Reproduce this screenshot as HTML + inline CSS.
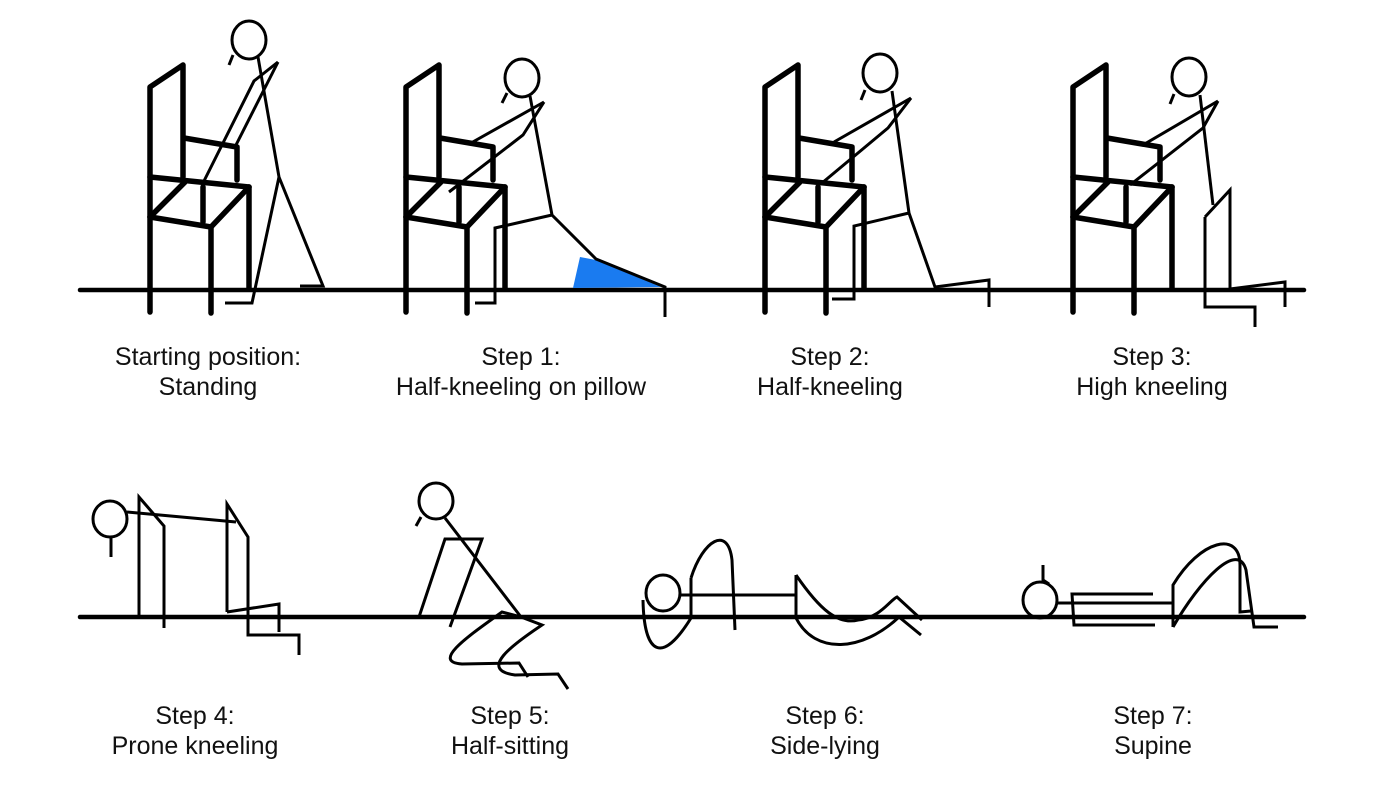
<!DOCTYPE html>
<html><head><meta charset="utf-8"><style>
html,body{margin:0;padding:0;background:#fff;}
svg{display:block}
text{font-family:"Liberation Sans",Arial,sans-serif;font-size:25px;fill:#111;text-anchor:middle}
</style></head><body>
<svg width="1386" height="800" viewBox="0 0 1386 800">
<defs>
<g id="chair" fill="none" stroke="#000" stroke-width="5.5" stroke-linecap="round" stroke-linejoin="round">
  <path d="M0,312 L0,87 L33,65 L33,177"/>
  <path d="M34,138 L87,147 L87,180"/>
  <path d="M0,177 L99,187"/>
  <path d="M0,217 L61,227 L99,187"/>
  <path d="M0,217 L35,182"/>
  <path d="M53,187 L53,222"/>
  <path d="M99,187 L99,289"/>
  <path d="M61,227 L61,313"/>
</g>
</defs>
<g stroke="#000" stroke-width="4.5" stroke-linecap="round">
<line x1="80" y1="290" x2="1304" y2="290"/>
<line x1="80" y1="617" x2="1304" y2="617"/>
</g>
<use href="#chair" x="150" y="0"/>
<use href="#chair" x="406" y="0"/>
<use href="#chair" x="765" y="0"/>
<use href="#chair" x="1073" y="0"/>
<polygon points="580,257 596,260 661,287 573,288" fill="#1a7bf0"/>
<g fill="none" stroke="#000" stroke-width="3" stroke-linejoin="miter">
<!-- Person 0 -->
<ellipse cx="249" cy="40" rx="17" ry="19"/>
<path d="M233,55 L229,65"/>
<path d="M258,57 L279,177 L323,286 L300,286"/>
<path d="M279,177 L252,303 L225,303"/>
<path d="M278,62 L254,81 L202,185"/>
<path d="M278,62 L236,145"/>
<!-- Person 1 -->
<ellipse cx="522" cy="78" rx="17" ry="19"/>
<path d="M507,93 L502,103"/>
<path d="M530,96 L552,215 L596,259 L665,287 L665,317"/>
<path d="M552,215 L495,228 L495,303 L475,303"/>
<path d="M544,102 L471,143"/>
<path d="M544,102 L523,135 L449,192"/>
<!-- Person 2 -->
<ellipse cx="880" cy="73" rx="17" ry="19"/>
<path d="M865,90 L861,100"/>
<path d="M892,91 L909,213 L935,287 L989,280 L989,307"/>
<path d="M909,213 L854,226 L854,299 L832,299"/>
<path d="M911,98 L834,142"/>
<path d="M911,98 L888,128 L822,183"/>
<!-- Person 3 -->
<ellipse cx="1189" cy="77" rx="17" ry="19"/>
<path d="M1174,94 L1170,104"/>
<path d="M1200,95 L1213,205"/>
<path d="M1218,101 L1143,145"/>
<path d="M1218,101 L1203,128 L1130,185"/>
<path d="M1205,217 L1230,190 L1230,289 L1285,282 L1285,307"/>
<path d="M1205,217 L1205,307 L1255,307 L1255,327"/>
<!-- Step 4 -->
<ellipse cx="110" cy="519" rx="17" ry="18"/>
<path d="M111,537 L111,557"/>
<path d="M127,512 L236,522"/>
<path d="M139,617 L139,497 L164,526 L164,628"/>
<path d="M227,612 L227,504 L248,537 L248,635 L299,635 L299,655"/>
<path d="M227,612 L279,604 L279,632"/>
<!-- Step 5 -->
<ellipse cx="436" cy="501" rx="17" ry="18"/>
<path d="M421,517 L416,526"/>
<path d="M445,518 L521,617"/>
<path d="M419,617 L445,539 L482,539 L450,627"/>
<path d="M521,617 L502,612 C470,635 430,662 462,664 L519,663 L528,677"/>
<path d="M521,617 L542,625 C512,645 478,670 515,675 L558,674 L568,689"/>
<!-- Step 6 -->
<ellipse cx="663" cy="593" rx="17" ry="18"/>
<path d="M681,595 L796,595"/>
<path d="M691,578 C703,540 728,525 732,560 L735,630"/>
<path d="M643,600 C644,655 662,665 691,618 L691,578"/>
<path d="M796,575 L796,618"/>
<path d="M796,575 C820,610 838,625 858,620 C880,618 890,600 897,597 L922,620"/>
<path d="M796,618 C815,655 862,652 899,617 L921,635"/>
<!-- Step 7 -->
<ellipse cx="1040" cy="600" rx="17" ry="18"/>
<path d="M1043,565 L1043,580 L1049,584"/>
<path d="M1058,603 L1173,603"/>
<path d="M1153,594 L1072,594 L1074,625 L1155,625"/>
<path d="M1173,627 L1173,585 C1200,540 1240,530 1240,565 L1240,612 L1251,611"/>
<path d="M1173,627 C1200,580 1238,540 1246,570 L1254,627 L1278,627"/>
</g>
<text x="208" y="365">Starting position:</text>
<text x="208" y="395">Standing</text>
<text x="521" y="365">Step 1:</text>
<text x="521" y="395">Half-kneeling on pillow</text>
<text x="830" y="365">Step 2:</text>
<text x="830" y="395">Half-kneeling</text>
<text x="1152" y="365">Step 3:</text>
<text x="1152" y="395">High kneeling</text>
<text x="195" y="724">Step 4:</text>
<text x="195" y="754">Prone kneeling</text>
<text x="510" y="724">Step 5:</text>
<text x="510" y="754">Half-sitting</text>
<text x="825" y="724">Step 6:</text>
<text x="825" y="754">Side-lying</text>
<text x="1153" y="724">Step 7:</text>
<text x="1153" y="754">Supine</text>
</svg>
</body></html>
